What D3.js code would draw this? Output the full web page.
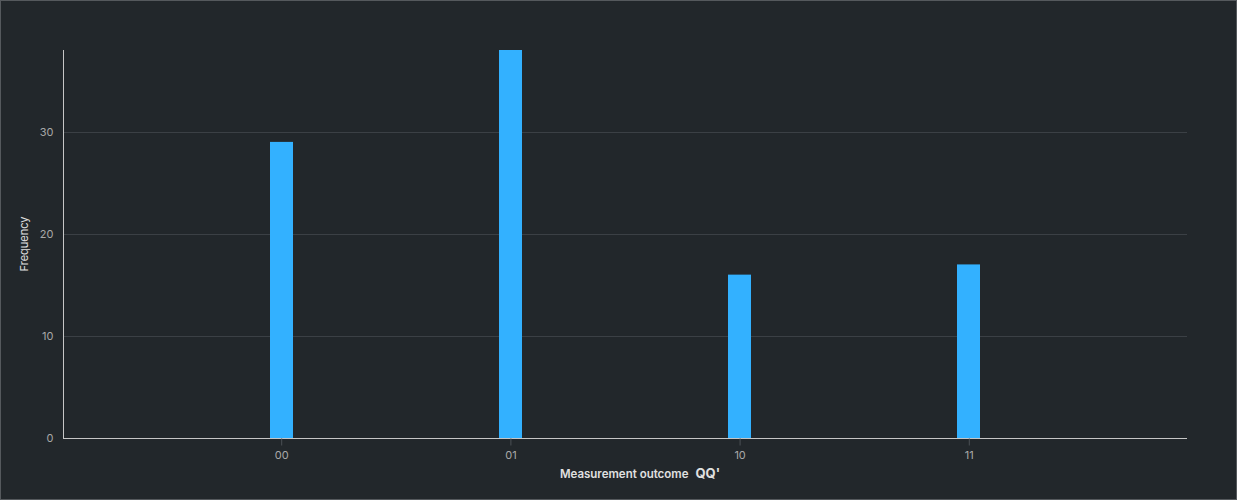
<!DOCTYPE html>
<html><head><meta charset="utf-8">
<script src="https://cdn.jsdelivr.net/npm/d3@7"></script>
<style>
html,body{margin:0;padding:0;background:#22272b;}
svg{display:block;}
</style></head>
<body>
<script>
const categories = ["00", "01", "10", "11"];
const frequencies = [29, 38, 16, 17];
const yTicks = [0, 10, 20, 30];

const W = 1237, H = 500;
const m = {left: 63, right: 1187, top: 50, bottom: 438};
const svg = d3.select("body").append("svg").attr("width", W).attr("height", H);
svg.append("rect").attr("x", 0.5).attr("y", 0.5).attr("width", W - 1).attr("height", H - 1)
  .attr("fill", "#22272b").attr("stroke", "#55595d");

const x = d3.scalePoint().domain(categories).range([m.left, m.right]).padding(0.952);
const y = d3.scaleLinear().domain([0, 38]).range([m.bottom, m.top]);

// grid
svg.append("g").selectAll("line").data(yTicks.filter(d => d > 0)).join("line")
  .attr("x1", m.left).attr("x2", m.right)
  .attr("y1", d => Math.round(y(d)) + 0.5).attr("y2", d => Math.round(y(d)) + 0.5)
  .attr("stroke", "#3b4045");

// bars
const bw = 23;
svg.append("g").selectAll("rect").data(frequencies).join("rect")
  .attr("x", (d, i) => Math.round(x(categories[i]) - bw / 2))
  .attr("y", d => y(d))
  .attr("width", bw)
  .attr("height", d => m.bottom - y(d))
  .attr("fill", "#33b1ff");

const font = "Inter, 'Open Sans', sans-serif";
// y axis
const ya = svg.append("g").attr("transform", `translate(${m.left + 0.5},0)`)
  .call(d3.axisLeft(y).tickValues(yTicks).tickSize(0).tickPadding(10).tickFormat(d3.format("d")));
ya.select(".domain").attr("stroke", "#c6c6c6").attr("d", `M0,${m.top}V${m.bottom}`);
ya.selectAll("text").attr("fill", "#a8a8a8").style("font-family", font).style("font-size", "11px");

// x axis
const xa = svg.append("g").attr("transform", `translate(0,${m.bottom + 0.5})`)
  .call(d3.axisBottom(x).tickSize(7).tickPadding(6));
xa.select(".domain").attr("stroke", "#c6c6c6").attr("d", `M${m.left},0H${m.right}`);
xa.selectAll(".tick line").attr("stroke", "#4a4f54");
xa.selectAll("text").attr("fill", "#a8a8a8").style("font-family", font).style("font-size", "11px");

// labels
const xl = svg.append("text").attr("x", 640).attr("y", 478).attr("text-anchor", "middle")
  .attr("fill", "#e0e0e0").style("font-family", font).style("font-weight", 600);
xl.append("tspan").style("font-size", "11.5px").text("Measurement outcome");
xl.append("tspan").attr("dx", 7).style("font-size", "13px").style("font-weight", 700).text("QQ'");
svg.append("text").attr("transform", `translate(28,${(m.top + m.bottom) / 2}) rotate(-90)`)
  .attr("text-anchor", "middle").attr("fill", "#e0e0e0")
  .style("font-family", font).style("font-size", "11px").text("Frequency");
</script>
</body></html>
